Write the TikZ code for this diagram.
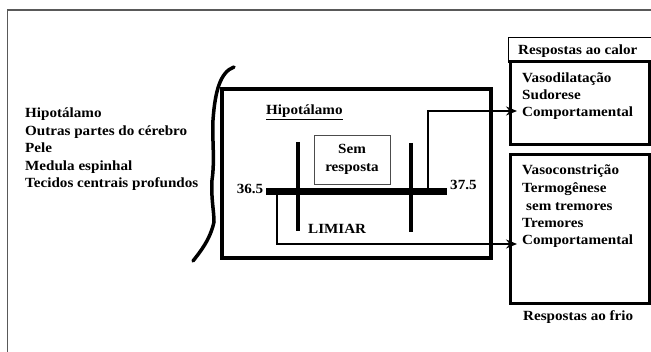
\documentclass[tikz,border=0pt]{standalone}
\usepackage{fontspec}
\setmainfont{Liberation Serif}[FakeStretch=1.08]
\usetikzlibrary{arrows.meta}
\tikzset{
  txt/.style={font=\fontsize{14}{16}\selectfont\bfseries, inner sep=0pt, anchor=base west},
  ctxt/.style={font=\fontsize{14}{16}\selectfont\bfseries, inner sep=0pt, anchor=base},
  bar/.style={line width=4pt},
  conn/.style={line width=1.5pt},
  arr/.style={conn, -{Stealth[length=11pt,width=9pt]}},
  respbox/.style={draw, line width=3pt},
}
\begin{document}
\begin{tikzpicture}[x=1pt,y=-1pt]
\useasboundingbox (0,0) rectangle (651,352);
% outer frame
\draw[gray!70!black, line width=1.2pt] (7.5,352) -- (7.5,10) -- (651,10);
% left list
\node[txt] (l1) at (25,118) {Hipotálamo};
\node[txt] (l2) at (25,135.5) {Outras partes do cérebro};
\node[txt] (l3) at (25,153) {Pele};
\node[txt] (l4) at (25,170.5) {Medula espinhal};
\node[txt] (l5) at (25,188) {Tecidos centrais profundos};
% brace
\draw[line width=3.5pt, line cap=round] (234,67) .. controls (220,72) and (215,92) .. (213,120)
  .. controls (212,140) and (215,160) .. (212,180) .. controls (211,200) and (214,210) .. (214,222)
  .. controls (210,240) and (200,252) .. (193,261);
% main box
\draw[line width=4.5pt] (222,89) rectangle (491,258);
\node[txt] (hip) at (266,115) {\underline{Hipotálamo}};
% sem resposta
\draw[line width=0.8pt, gray!60!black] (314,135) rectangle (390,184);
\node[ctxt] (sem) at (352,154) {Sem};
\node[ctxt] (resp) at (352,172) {resposta};
% bars
\coordinate (hl) at (266,192);
\coordinate (hr) at (447,192);
\draw[line width=7pt] (hl) -- (hr);
\draw[bar] (298,142) -- (298,231);
\draw[bar] (411,143) -- (411,232);
\node[txt, anchor=base east] (t365) at (263.5,194) {36.5};
\node[txt] (t375) at (450,190) {37.5};
\node[txt] (lim) at (308,234) {LIMIAR};
% response boxes
\draw[line width=0.8pt] (508,63) -- (508,37) -- (652,37);
\node[txt] (rc) at (518,55) {Respostas ao calor};
\draw[respbox] (510,62) rectangle (649.5,145);
\draw[respbox] (510,155) rectangle (649.5,304);
\node[txt] (h1) at (522,83) {Vasodilatação};
\node[txt] (h2) at (522,100) {Sudorese};
\node[txt] (h3) at (522,117) {Comportamental};
\node[txt] (c1) at (522,175) {Vasoconstrição};
\node[txt] (c2) at (522,193) {Termogênese};
\node[txt] (c3) at (526,211) {sem tremores};
\node[txt] (c4) at (522,228) {Tremores};
\node[txt] (c5) at (522,245) {Comportamental};
\node[txt] (rf) at (523,321) {Respostas ao frio};
% connectors
\coordinate (ua) at (428,189);
\coordinate (ub) at (277,195);
\coordinate (heatin) at (517,111);
\coordinate (coldin) at (517,244);
\draw[arr] (ua) |- (heatin);
\draw[arr] (ub) |- (coldin);
\end{tikzpicture}
\end{document}
